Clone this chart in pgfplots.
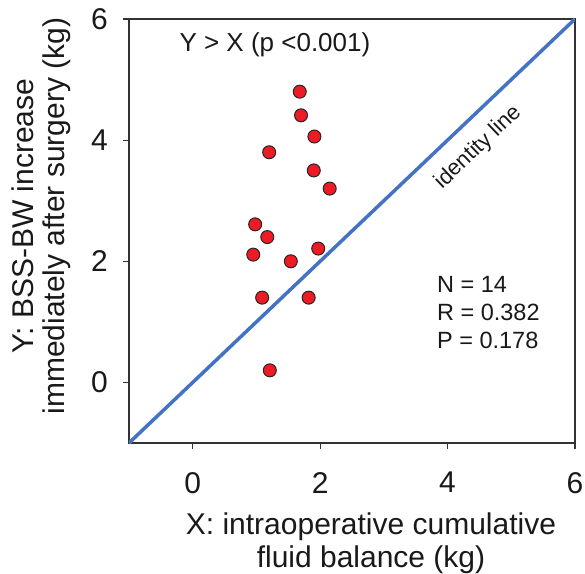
\documentclass[border=0pt]{standalone}
\usepackage{pgfplots}
\pgfplotsset{compat=1.18}
\usepackage{fontspec}
\setmainfont{Liberation Sans}
\definecolor{idblue}{RGB}{68,114,196}
\definecolor{ptred}{RGB}{237,28,36}
\definecolor{axgray}{RGB}{50,50,50}
\begin{document}
\begin{tikzpicture}
\path[use as bounding box] (-129pt,-130pt) rectangle ++(585pt,573pt);
\begin{axis}[
name=ax,
scale only axis,width=446pt,height=424pt,
xmin=-1,xmax=6,ymin=-1,ymax=6,
xtick={0,2,4,6},ytick={0,2,4,6},
xtick pos=bottom,ytick pos=left,
tick align=outside,major tick length=6pt,
axis line style={draw=axgray,line width=1.1pt},
tick style={draw=axgray,line width=1.1pt},
/pgf/number format/assume math mode=true,
ticklabel style={font=\fontsize{30}{34}\selectfont,inner sep=0pt,text=black!90},
xticklabel style={anchor=north,yshift=-23pt},
yticklabel style={anchor=east,xshift=-15pt},
xlabel={X: intraoperative cumulative\\fluid balance (kg)},
xlabel style={font=\fontsize{30}{33}\selectfont,align=center,at={(rel axis cs:0.5426,-0.237)},anchor=center,text=black!90},
ylabel={Y: BSS-BW increase\\immediately after surgery (kg)},
ylabel style={font=\fontsize{30}{31}\selectfont,align=center,at={(rel axis cs:-0.197,0.535)},anchor=center,rotate=0,text=black!90},
clip=true,
]
% identity line
\addplot[idblue,line width=3.5pt] coordinates {(-1,-1) (6,6)};
% patients
\addplot[only marks,mark=*,mark size=6.5pt,
  mark options={fill=ptred,draw=black!85,line width=1pt}] coordinates {
(1.68,4.80) (1.70,4.41) (1.91,4.06) (1.20,3.80) (1.90,3.50) (2.15,3.20)
(0.98,2.61) (1.17,2.40) (0.95,2.11) (1.54,2.00) (1.97,2.21)
(1.09,1.40) (1.82,1.40) (1.21,0.20)
};
\node[font=\fontsize{26}{30}\selectfont,anchor=base,text=black!90] at (axis cs:1.29,5.46) {Y > X (p <0.001)};
\node[font=\fontsize{22}{26}\selectfont,rotate=43.6,anchor=center,text=black!90] at (axis cs:4.485,3.88) {identity line};
\node[font=\fontsize{23.5}{28}\selectfont,anchor=base west,align=left,text=black!90] at (axis cs:3.78,0.56) {N = 14\\R = 0.382\\P = 0.178};
\end{axis}
\end{tikzpicture}
\end{document}
